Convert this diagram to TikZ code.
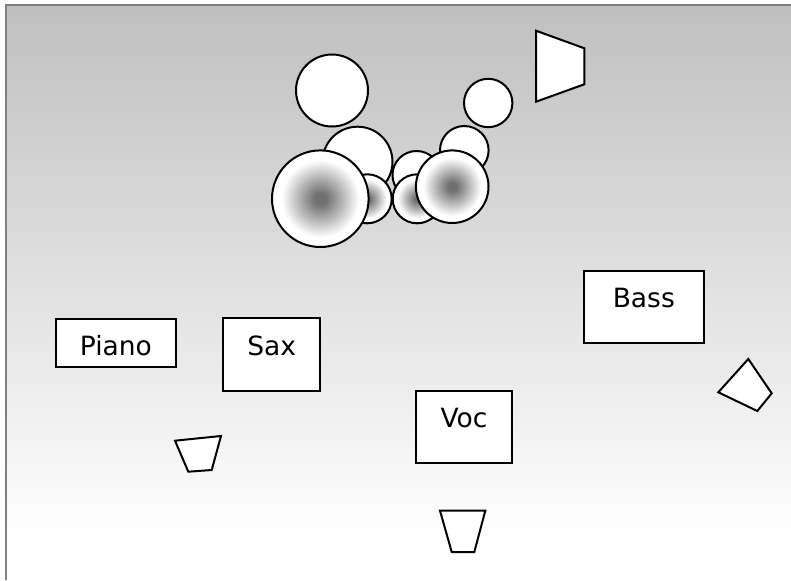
\documentclass[tikz,border=0pt]{standalone}
\usepackage{fontspec}
\setmainfont{DejaVu Sans}
\pgfdeclareradialshading{softball}{\pgfpoint{0bp}{0bp}}{color(0bp)=(gray!88!black); color(3bp)=(gray!88!black); color(20bp)=(white); color(25bp)=(white); color(50bp)=(white)}
\tikzset{
  ring/.style={draw=black, line width=2pt, fill=white},
  sball/.style={draw=black, line width=2pt, shading=softball},
  spk/.style={draw=black, line width=2pt, fill=white},
  instr/.style={draw=black, line width=2pt, fill=white, rectangle, inner sep=0pt},
  lbl/.style={inner sep=0pt, font=\fontsize{26.5}{30}\selectfont, anchor=base},
}
\begin{document}
\begin{tikzpicture}[x=1pt,y=-1pt]
\useasboundingbox (0,0) rectangle (791,580);
\fill[white] (0,0) rectangle (791,580);
\shade[top color=gray!50, bottom color=white] (6,5) rectangle (791,540);
\draw[gray, line width=2pt] (6,580) -- (6,5) -- (791,5);
% circles
\draw[ring] (332,90.5) circle (36);
\draw[ring] (357.5,161.7) circle (35);
\draw[ring] (416.5,175) circle (24);
\draw[ring] (464.3,150.3) circle (24.3);
\draw[ring] (488.2,103) circle (24.2);
\draw[sball] (367.2,198.8) circle (24.5);
\draw[sball] (417.2,198.8) circle (24.5);
\draw[sball] (320.3,198.7) circle (48.3);
\draw[sball] (452.2,186.7) circle (36.3);
% speakers
\draw[spk] (536,30.7) -- (584.3,48.3) -- (584.3,84.3) -- (536,101.7) -- cycle;
\draw[spk] (748.3,359) -- (771.7,393.3) -- (757.3,411) -- (718.3,392.3) -- cycle;
\draw[spk] (175,440.7) -- (221,436) -- (211.7,470) -- (188.3,471.7) -- cycle;
\draw[spk] (440,510.7) -- (485.3,510.7) -- (474.3,552) -- (451.7,552) -- cycle;
% instruments
\node[instr, minimum width=120.3pt, minimum height=48pt] (piano) at (115.85,343.3) {};
\node[lbl] (pianol) at ([yshift=-37.5pt]piano.north) {Piano};
\node[instr, minimum width=97.4pt, minimum height=72.7pt] (sax) at (271.7,354.65) {};
\node[lbl] (saxl) at ([yshift=-38pt]sax.north) {Sax};
\node[instr, minimum width=96.4pt, minimum height=72.3pt] (voc) at (464,426.85) {};
\node[lbl] (vocl) at ([yshift=-37.5pt]voc.north) {Voc};
\node[instr, minimum width=120pt, minimum height=72pt] (bass) at (643.8,306.7) {};
\node[lbl] (bassl) at ([yshift=-37.5pt]bass.north) {Bass};
\end{tikzpicture}
\end{document}
